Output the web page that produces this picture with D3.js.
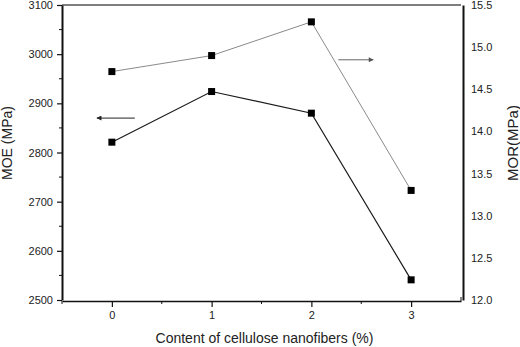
<!DOCTYPE html>
<html>
<head>
<meta charset="utf-8">
<script src="https://cdn.jsdelivr.net/npm/d3@7"></script>
<style>
    body { margin: 0; background: #fff; }
    #chart text { font-family: Arial, "Liberation Sans", sans-serif; fill: #222; }
</style>
</head>
<body>
<div id="chart"></div>
<script>
var width = 520
var height = 347
const margin = {top: 5, right: 59, bottom: 47, left: 62}

// data
var contents = [0, 1, 2, 3]
var moe = [2821, 2924, 2880, 2541]
var mor = [14.71, 14.90, 15.30, 13.30]
var moeTicks = [2500, 2600, 2700, 2800, 2900, 3000, 3100]
var morTicks = [12.0, 12.5, 13.0, 13.5, 14.0, 14.5, 15.0, 15.5]

var svg, xScale, yLeft, yRight

createChart()

function createChart()
{
    svg = d3.select("#chart")
        .append("svg")
        .attr("width", width)
        .attr("height", height)
        .attr("display", "block")

    xScale = d3.scaleLinear()
        .domain([-0.5, 3.5])
        .range([margin.left, width - margin.right])
    yLeft = d3.scaleLinear()
        .domain([2500, 3100])
        .range([height - margin.bottom, margin.top])
    yRight = d3.scaleLinear()
        .domain([12, 15.5])
        .range([height - margin.bottom, margin.top])

    var defs = svg.append("defs")
    defs.append("marker")
        .attr("id", "arrowDark")
        .attr("viewBox", "0 0 10 10")
        .attr("refX", 9).attr("refY", 5)
        .attr("markerWidth", 7).attr("markerHeight", 5)
        .attr("markerUnits", "userSpaceOnUse")
        .attr("orient", "auto")
        .append("path").attr("d", "M0,0L10,5L0,10Z").attr("fill", "#222")
    defs.append("marker")
        .attr("id", "arrowGray")
        .attr("viewBox", "0 0 10 10")
        .attr("refX", 9).attr("refY", 5)
        .attr("markerWidth", 7).attr("markerHeight", 5)
        .attr("markerUnits", "userSpaceOnUse")
        .attr("orient", "auto")
        .append("path").attr("d", "M0,0L10,5L0,10Z").attr("fill", "#555")

    var x0 = xScale.range()[0], x1 = xScale.range()[1]
    var yb = yLeft.range()[0], yt = yLeft.range()[1]

    // top frame line
    svg.append("line")
        .attr("x1", x0).attr("x2", x1)
        .attr("y1", yt).attr("y2", yt)
        .attr("stroke", "#555").attr("stroke-width", 1.5)

    // bottom axis
    var xAxis = d3.axisBottom(xScale)
        .tickValues(contents)
        .tickFormat(d3.format("d"))
        .tickSize(6)
        .tickSizeOuter(0)
        .tickPadding(4)
    var gx = svg.append("g")
        .attr("transform", "translate(0," + (yb + 1) + ")")
        .call(xAxis)
    gx.select(".domain").attr("stroke", "#111").attr("stroke-width", 1.5)
    gx.selectAll(".tick line").attr("stroke", "#111").attr("stroke-width", 1.2)
    gx.selectAll("text").attr("font-size", 11)
    gx.selectAll(".minor")
        .data([-0.5, 0.5, 1.5, 2.5])
        .enter().append("line")
        .attr("x1", d => xScale(d)).attr("x2", d => xScale(d))
        .attr("y1", 0).attr("y2", 3)
        .attr("stroke", "#111")
    gx.append("line")
        .attr("x1", x1).attr("x2", x1)
        .attr("y1", 0).attr("y2", -4)
        .attr("stroke", "#111")

    // left axis
    var yAxisL = d3.axisLeft(yLeft)
        .tickValues(moeTicks)
        .tickFormat(d3.format("d"))
        .tickSize(5)
        .tickSizeOuter(0)
        .tickPadding(4)
    var gl = svg.append("g")
        .attr("transform", "translate(" + x0 + ",0)")
        .call(yAxisL)
    gl.select(".domain").attr("stroke", "#111").attr("stroke-width", 2)
    gl.selectAll(".tick line").attr("stroke", "#111").attr("stroke-width", 1.2)
    gl.selectAll("text").attr("font-size", 11)
    gl.selectAll(".minor")
        .data(d3.range(2550, 3100, 100))
        .enter().append("line")
        .attr("x1", 0).attr("x2", -3)
        .attr("y1", d => yLeft(d)).attr("y2", d => yLeft(d))
        .attr("stroke", "#111")

    // right axis
    var yAxisR = d3.axisRight(yRight)
        .tickValues(morTicks)
        .tickFormat(d3.format(".1f"))
        .tickSize(0)
        .tickPadding(8)
    var gr = svg.append("g")
        .attr("transform", "translate(" + (x1 + 2) + ",0)")
        .call(yAxisR)
    gr.select(".domain").attr("stroke", "#111").attr("stroke-width", 2)
    gr.selectAll("text").attr("font-size", 11)

    // axis titles
    svg.append("text")
        .attr("transform", "translate(" + ((x0 + x1) / 2 + 3) + "," + (height - 4) + ")")
        .style("text-anchor", "middle")
        .attr("font-size", 14)
        .text("Content of cellulose nanofibers (%)")
    svg.append("text")
        .attr("transform", "translate(12," + 143 + ")rotate(-90)")
        .style("text-anchor", "middle")
        .attr("font-size", 14)
        .text("MOE (MPa)")
    svg.append("text")
        .attr("transform", "translate(518," + 143 + ")rotate(-90)")
        .style("text-anchor", "middle")
        .attr("font-size", 15)
        .text("MOR(MPa)")

    // MOR series (gray)
    var lineR = d3.line()
        .x((d, i) => xScale(contents[i]))
        .y(d => yRight(d))
    svg.append("path")
        .datum(mor)
        .attr("d", lineR)
        .attr("fill", "none")
        .attr("stroke", "#8a8a8a")
        .attr("stroke-width", 1)
    svg.selectAll(".mor-pt")
        .data(mor)
        .enter().append("rect")
        .attr("class", "mor-pt")
        .attr("x", (d, i) => xScale(contents[i]) - 3.5)
        .attr("y", d => yRight(d) - 3.5)
        .attr("width", 7).attr("height", 7)
        .attr("fill", "#000")

    // MOE series (black)
    var lineL = d3.line()
        .x((d, i) => xScale(contents[i]))
        .y(d => yLeft(d))
    svg.append("path")
        .datum(moe)
        .attr("d", lineL)
        .attr("fill", "none")
        .attr("stroke", "#1a1a1a")
        .attr("stroke-width", 1.2)
    svg.selectAll(".moe-pt")
        .data(moe)
        .enter().append("rect")
        .attr("class", "moe-pt")
        .attr("x", (d, i) => xScale(contents[i]) - 3.5)
        .attr("y", d => yLeft(d) - 3.5)
        .attr("width", 7).attr("height", 7)
        .attr("fill", "#000")

    // arrows pointing to the axis each series belongs to
    svg.append("line")
        .attr("x1", xScale(0.23)).attr("x2", xScale(-0.15))
        .attr("y1", yLeft(2870)).attr("y2", yLeft(2870))
        .attr("stroke", "#222").attr("stroke-width", 1)
        .attr("marker-end", "url(#arrowDark)")
    svg.append("line")
        .attr("x1", xScale(2.27)).attr("x2", xScale(2.62))
        .attr("y1", yRight(14.85)).attr("y2", yRight(14.85))
        .attr("stroke", "#666").attr("stroke-width", 1)
        .attr("marker-end", "url(#arrowGray)")
}
</script>
</body>
</html>
